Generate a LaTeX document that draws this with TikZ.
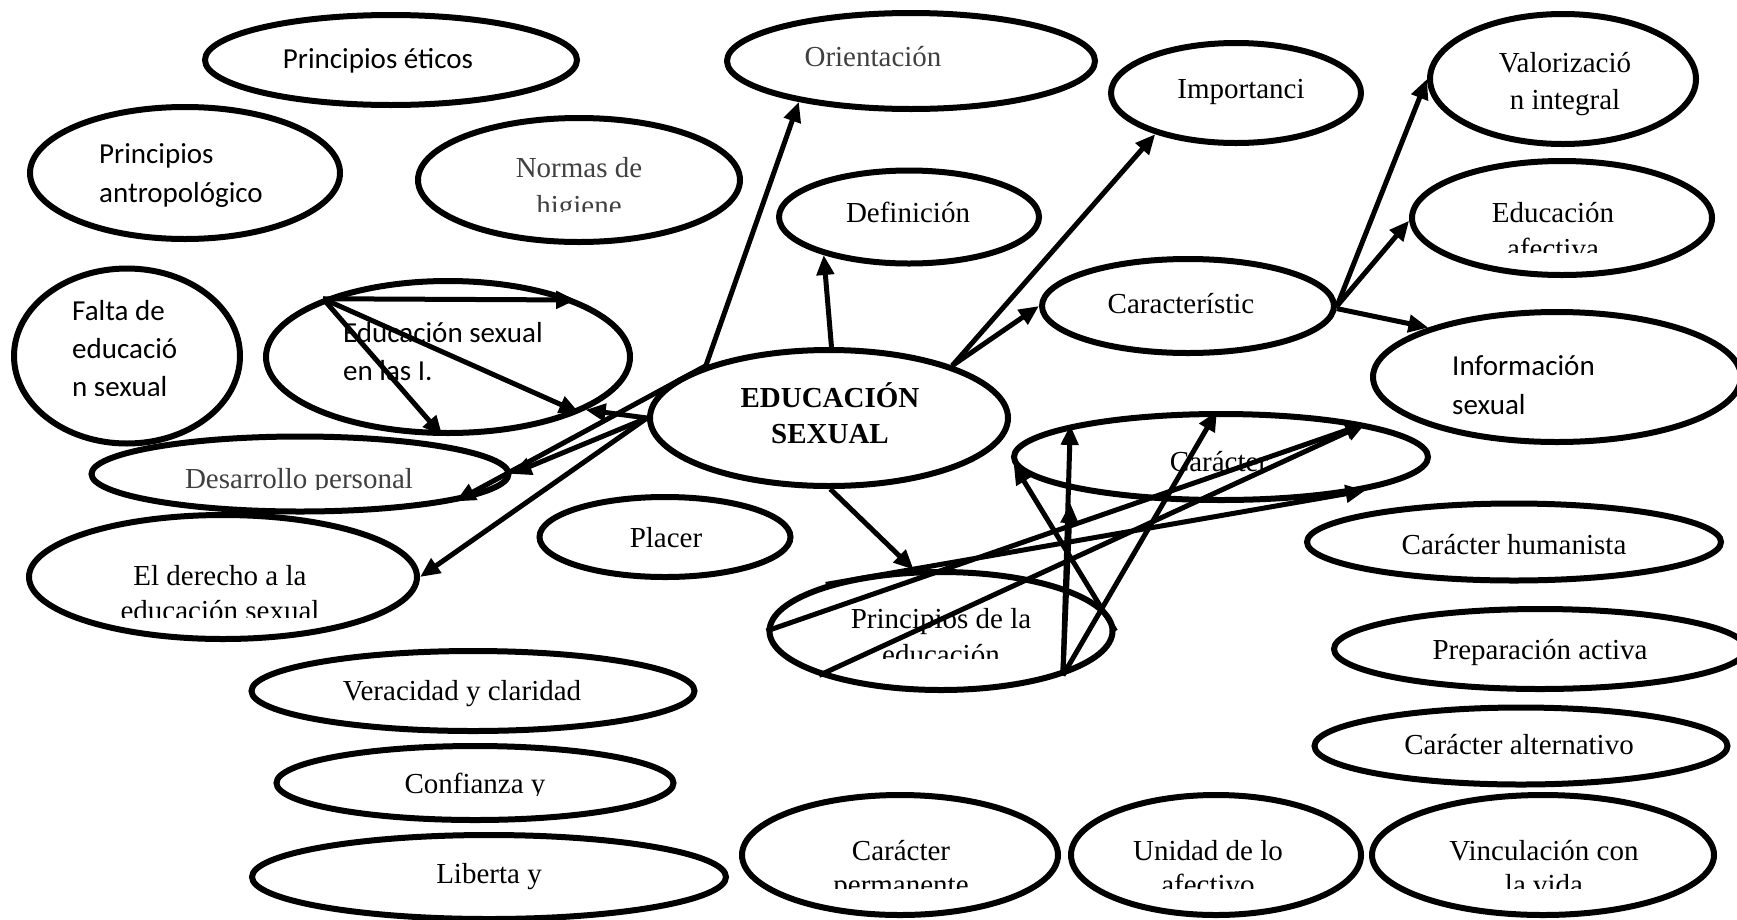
\documentclass[tikz,border=0pt]{standalone}
\usepackage{fontspec}
\setmainfont{Liberation Serif}
\newfontfamily\sansf{Carlito}
\usetikzlibrary{shapes.geometric,arrows.meta}
\definecolor{txtgray}{RGB}{64,64,64}
\newcommand{\twoc}[2]{\begin{tabular}[t]{@{}c@{}}#1\\#2\end{tabular}}
\newcommand{\twol}[2]{\begin{tabular}[t]{@{}l@{}}#1\\#2\end{tabular}}
\newcommand{\threel}[3]{\begin{tabular}[t]{@{}l@{}}#1\\#2\\#3\end{tabular}}
\tikzset{
  ell/.style={draw, line width=6pt, ellipse, inner sep=0pt, fill=white},
  arr/.style={line width=5pt, -{Triangle[length=20pt,width=17pt]}},
  ser/.style={font=\fontsize{29}{36}\selectfont, inner sep=0pt, anchor=base},
  sanc/.style={font=\sansf\fontsize{29}{39}\selectfont, inner sep=0pt, anchor=base},
  sanl/.style={font=\sansf\fontsize{29}{39}\selectfont, inner sep=0pt, anchor=base west},
}
\begin{document}
\begin{tikzpicture}[x=1pt,y=-1pt]
\useasboundingbox (0,0) rectangle (1737,919);
\fill[white] (0,0) rectangle (1737,919);
% ellipses
\node[ell, minimum width=372pt, minimum height=90pt]  (etic)     at (391,60)  {};
\node[ell, minimum width=368pt, minimum height=96pt]  (orient)   at (911,61)  {};
\node[ell, minimum width=250pt, minimum height=100pt] (import)   at (1236,93) {};
\node[ell, minimum width=266pt, minimum height=130pt] (valor)    at (1563,79) {};
\node[ell, minimum width=310pt, minimum height=132pt] (antrop)   at (185,173) {};
\node[ell, minimum width=322pt, minimum height=124pt] (normas)   at (579,180) {};
\node[ell, minimum width=260pt, minimum height=93pt]  (defin)    at (909,217) {};
\node[ell, minimum width=300pt, minimum height=114pt] (afect)    at (1562,218) {};
\node[ell, minimum width=226pt, minimum height=175pt] (falta)    at (127,356) {};
\node[ell, minimum width=364pt, minimum height=152pt] (esi)      at (448,357) {};
\node[ell, minimum width=292pt, minimum height=94pt]  (caract)   at (1188,306) {};
\node[ell, minimum width=368pt, minimum height=130pt] (info)     at (1557,377) {};
\node[ell, minimum width=358pt, minimum height=136pt] (main)     at (829,418) {};
\node[ell, minimum width=417pt, minimum height=75pt]  (desarr)   at (300,474) {};
\node[ell, minimum width=414pt, minimum height=86pt]  (caracter) at (1221,457) {};
\node[ell, minimum width=251pt, minimum height=80pt]  (placer)   at (665,537) {};
\node[ell, minimum width=414pt, minimum height=77pt]  (human)    at (1514,542) {};
\node[ell, minimum width=388pt, minimum height=124pt] (derecho)  at (223,577) {};
\node[ell, minimum width=343pt, minimum height=118pt] (princ)    at (941,631) {};
\node[ell, minimum width=412pt, minimum height=80pt]  (prep)     at (1540,649) {};
\node[ell, minimum width=443pt, minimum height=80pt]  (verac)    at (473,691) {};
\node[ell, minimum width=413pt, minimum height=77pt]  (altern)   at (1521,746) {};
\node[ell, minimum width=397pt, minimum height=74pt]  (confi)    at (475,783) {};
\node[ell, minimum width=474pt, minimum height=84pt]  (liberta)  at (489,877) {};
\node[ell, minimum width=316pt, minimum height=120pt] (perman)   at (900,855) {};
\node[ell, minimum width=290pt, minimum height=120pt] (unidad)   at (1216,855) {};
\node[ell, minimum width=342pt, minimum height=120pt] (vincul)   at (1543,855) {};
% texts
\node[sanc] (t-etic) at (378,68) {Principios éticos};
\node[ser, text=txtgray] (t-orient) at (873,66) {Orientación};
\node[ser] (t-import) at (1241,98) {Importanci};
\node[ser, font=\fontsize{29}{37}\selectfont] (t-valor) at (1565,72) {\twoc{Valorizació}{n integral}};
\node[sanl] (t-antrop) at (99,163) {\twol{Principios}{antropológico}};
\begin{scope}
\clip (400,100) rectangle (760,211);
\node[ser, text=txtgray, font=\fontsize{29}{38}\selectfont] (t-normas) at (579,177) {\twoc{Normas de}{higiene}};
\end{scope}
\node[ser] (t-defin) at (908,222) {Definición};
\begin{scope}
\clip (1400,160) rectangle (1737,252);
\node[ser] (t-afect) at (1553,222) {\twoc{Educación}{afectiva}};
\end{scope}
\begin{scope}
\clip (0,260) rectangle (250,395);
\node[sanl, font=\sansf\fontsize{29}{38}\selectfont] (t-falta) at (72,320) {\threel{Falta de}{educació}{n sexual}};
\end{scope}
\node[sanl, font=\sansf\fontsize{29}{38}\selectfont] (t-esi) at (343,342) {\twol{Educación sexual}{en las I.}};
\node[ser] (t-caract) at (1181,313) {Característic};
\node[sanl] (t-info) at (1452,375) {\twol{Información}{sexual}};
\node[ser, font=\bfseries\fontsize{29}{36}\selectfont] (t-main) at (830,407) {\twoc{EDUCACIÓN}{SEXUAL}};
\begin{scope}
\clip (80,430) rectangle (520,489);
\node[ser, text=txtgray] (t-desarr) at (299,488) {Desarrollo personal};
\end{scope}
\node[ser] (t-caracter) at (1219,471) {Carácter};
\node[ser] (t-placer) at (666,547) {Placer};
\node[ser] (t-human) at (1514,554) {Carácter humanista};
\begin{scope}
\clip (20,520) rectangle (430,617);
\node[ser, font=\fontsize{29}{35}\selectfont] (t-derecho) at (220,585) {\twoc{El derecho a la}{educación sexual}};
\end{scope}
\begin{scope}
\clip (760,570) rectangle (1120,658);
\node[ser] (t-princ) at (941,628) {\twoc{Principios de la}{educación}};
\end{scope}
\node[ser] (t-prep) at (1540,659) {Preparación activa};
\node[ser] (t-verac) at (462,700) {Veracidad y claridad};
\node[ser] (t-altern) at (1519,754) {Carácter alternativo};
\begin{scope}
\clip (270,740) rectangle (680,795);
\node[ser] (t-confi) at (475,793) {Confianza y};
\end{scope}
\node[ser] (t-liberta) at (489,883) {Liberta y};
\begin{scope}
\clip (740,790) rectangle (1737,888);
\node[ser, font=\fontsize{29}{34}\selectfont] (t-perman) at (901,860) {\twoc{Carácter}{permanente}};
\node[ser, font=\fontsize{29}{34}\selectfont] (t-unidad) at (1208,860) {\twoc{Unidad de lo}{afectivo}};
\node[ser, font=\fontsize{29}{34}\selectfont] (t-vincul) at (1544,860) {\twoc{Vinculación con}{la vida}};
\end{scope}
% arrows
\draw[arr] (main.157) -- (orient.200);
\draw[arr] (main.88) -- (defin.204);
\draw[arr] (main.23) -- (import.207);
\draw[arr] (main.23) -- (caract.180);
\draw[arr] (caract.0) -- (valor.180);
\draw[arr] (caract.0) -- (afect.181);
\draw[arr] (caract.-1) -- (info.159);
\draw[arr] (main.-89) -- (princ.114);
\draw[arr] (main.180) -- (derecho.0);
\draw[arr] (main.180) -- (desarr.0);
\draw[arr] (main.157) -- (desarr.-10);
\draw[arr] (main.180) -- (esi.-21);
\draw[arr] (esi.155) -- (esi.24);
\draw[arr] (esi.155) -- (esi.-23);
\draw[arr] (esi.155) -- (esi.266);
\draw[arr] (princ.180) -- (caracter.13);
\draw[arr] (princ.200) -- (caracter.13);
\draw[arr] (princ.158) -- (caracter.-13);
\draw[arr] (princ.-20) -- (caracter.168);
\draw[arr] (princ.-20) -- ([yshift=-14pt]caracter.-168);
\draw[arr] (princ.-20) -- (caracter.95);
\draw[arr] (princ.0) -- (caracter.182);
\end{tikzpicture}
\end{document}
